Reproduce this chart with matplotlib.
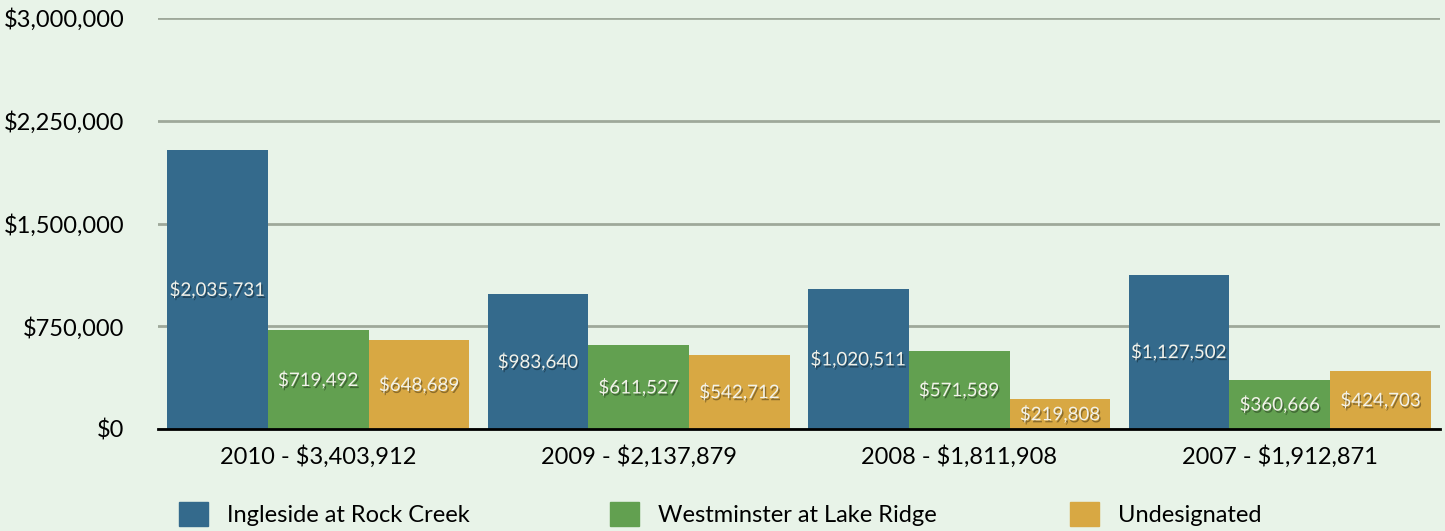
# --- Gifts by year, split by designation ---

import matplotlib
matplotlib.use("Agg")
import matplotlib.pyplot as plt
import matplotlib.patheffects as pe
from matplotlib.patches import Patch
import numpy as np

# --- Data ---

years = ["2010 - $3,403,912", "2009 - $2,137,879", "2008 - $1,811,908", "2007 - $1,912,871"]
ingleside = [2035731, 983640, 1020511, 1127502]
westminster = [719492, 611527, 571589, 360666]
undesignated = [648689, 542712, 219808, 424703]
series_names = ["Ingleside at Rock Creek", "Westminster at Lake Ridge", "Undesignated"]
yticks = [0, 750000, 1500000, 2250000, 3000000]

colors = ["#346a8c", "#62a050", "#d8a843"]
bg = "#e8f3e8"

plt.rcParams["font.family"] = ["Lato", "DejaVu Sans"]

# --- Figure ---

fig = plt.figure(figsize=(14.45, 5.31), dpi=100, facecolor=bg)
ax = fig.add_axes([158 / 1445, 1 - 429 / 531, 1282 / 1445, 411 / 531], facecolor=bg)

x = np.arange(len(years))
w = 0.3146
shadow = [pe.withSimplePatchShadow(offset=(1, -1.5), shadow_rgbFace="black", alpha=0.35)]

for i, (vals, col) in enumerate(zip([ingleside, westminster, undesignated], colors)):
    pos = x + (i - 1) * w
    ax.bar(pos, vals, width=w, color=col, zorder=3)
    for p, v in zip(pos, vals):
        ax.text(p, v / 2, f"${v:,}", ha="center", va="center", fontsize=13.5,
                color="#f2f2ea", zorder=4, path_effects=shadow)

ax.set_xlim(-0.5, 3.5)
ax.set_ylim(0, 3000000)
ax.set_yticks(yticks)
ax.set_yticklabels([f"${v:,}" for v in yticks], fontsize=17)
ax.set_xticks(x)
ax.set_xticklabels(years, fontsize=17)
ax.tick_params(length=0)
ax.tick_params(axis="y", pad=24)
ax.tick_params(axis="x", pad=12)
ax.yaxis.grid(True, color="#9ea89a", linewidth=2, zorder=0)
ax.set_axisbelow(True)
for s in ["top", "right", "left"]:
    ax.spines[s].set_visible(False)
ax.spines["bottom"].set_color("black")
ax.spines["bottom"].set_linewidth(2)
ax.spines["bottom"].set_zorder(5)

# --- Legend (three separate entries, spaced like the original) ---

legend_x = [170 / 1445, 601 / 1445, 1061 / 1445]
for name, col, lx in zip(series_names, colors, legend_x):
    fig.legend(handles=[Patch(color=col, label=name)], loc="center left",
               bbox_to_anchor=(lx, 1 - 514 / 531), frameon=False, fontsize=17,
               handlelength=1.2, handleheight=1.2, handletextpad=0.8, borderaxespad=0)

fig.savefig("out.png", dpi=100, facecolor=bg)
